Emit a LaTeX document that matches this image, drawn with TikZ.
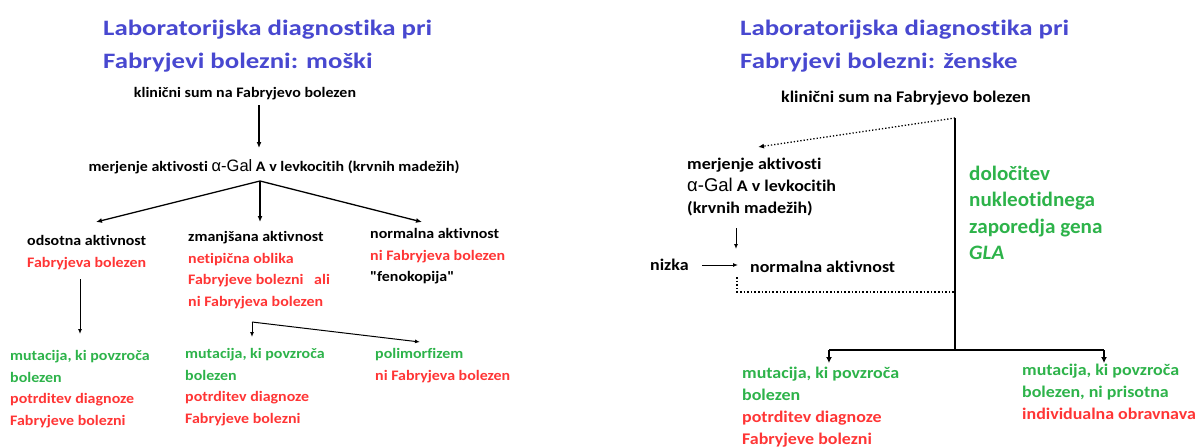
\documentclass[tikz,border=0pt]{standalone}
\usepackage{fontspec}
\setmainfont{Carlito}[Ligatures={NoCommon,TeXOff}, FakeStretch=1.1]
\newfontfamily\ttlfont{Carlito}[Ligatures={NoCommon,TeXOff}, FakeStretch=1.22]
\newfontfamily\bigfont{Carlito}[Ligatures={NoCommon,TeXOff}, FakeStretch=1.03]
\newfontfamily\galfont{Liberation Sans}
\usetikzlibrary{arrows.meta}
\definecolor{ttlblue}{HTML}{4848D0}
\definecolor{txtred}{HTML}{FF3535}
\definecolor{txtgreen}{HTML}{2DB34A}
\newcommand{\agal}{{\galfont\mdseries\fontsize{16.5}{16}\selectfont α-Gal}}
\newcommand{\agalR}{{\galfont\mdseries\fontsize{18.5}{16}\selectfont α-Gal}}
\tikzset{
  ttl/.style={inner sep=0pt, anchor=north west, align=left, text=ttlblue,
    font=\ttlfont\fontsize{22}{33}\selectfont\bfseries},
  txt/.style={inner sep=0pt, align=left, font=\fontsize{14.5}{21.7}\selectfont\bfseries},
  txtR/.style={inner sep=0pt, align=left, font=\fontsize{16.3}{22}\selectfont\bfseries},
  big/.style={inner sep=0pt, align=left, anchor=north west, text=txtgreen,
    font=\bigfont\fontsize{20.5}{26.3}\selectfont\bfseries},
  arr/.style={line width=1.3pt, -{Latex[length=6pt,width=5pt]}},
  thinarr/.style={line width=1pt, -{Latex[length=5pt,width=4pt]}},
  dotarr/.style={line width=1.3pt, dotted, -{Latex[length=6pt,width=5pt]}},
  dotline/.style={line width=1.6pt, dotted},
  thick/.style={line width=2.4pt},
  thickarr/.style={line width=2pt, -{Latex[length=6pt,width=6pt]}},
}
\begin{document}
\begin{tikzpicture}[x=1pt,y=-1pt]
\useasboundingbox[fill=white] (0,0) rectangle (1199,447);
% ---------------- left: men ----------------
\node[ttl] (t1) at (103,20) {Laboratorijska diagnostika pri\\Fabryjevi bolezni: moški};
\node[txt] (k1) at (245,94) {klinični sum na Fabryjevo bolezen};
\node[txt] (m1) at (274,167) {merjenje aktivosti \agal{} A v levkocitih (krvnih madežih)};
\node[txt, anchor=north west] (od) at (27,235) {odsotna aktivnost\\\color{txtred}Fabryjeva bolezen};
\node[txt, anchor=north west] (zm) at (188,231) {zmanjšana aktivnost\\\color{txtred}netipična oblika\\\color{txtred}Fabryjeve bolezni\hspace{7pt} ali\\\color{txtred}ni Fabryjeva bolezen};
\node[txt, anchor=north west] (no) at (370,228) {normalna aktivnost\\\color{txtred}ni Fabryjeva bolezen\\"fenokopija"};
\node[txt, anchor=north west] (mu1) at (10,350) {\color{txtgreen}mutacija, ki povzroča\\\color{txtgreen}bolezen\\\color{txtred}potrditev diagnoze\\\color{txtred}Fabryjeve bolezni};
\node[txt, anchor=north west] (mu2) at (185,348) {\color{txtgreen}mutacija, ki povzroča\\\color{txtgreen}bolezen\\\color{txtred}potrditev diagnoze\\\color{txtred}Fabryjeve bolezni};
\node[txt, anchor=north west] (po) at (375,348) {\color{txtgreen}polimorfizem\\\color{txtred}ni Fabryjeva bolezen};
% connectors left
\coordinate (k1a) at (259,105);
\coordinate (m1a) at (259,148);
\coordinate (sp) at (260,181);
\coordinate (odA) at (96,222);
\coordinate (zmA) at (260,222);
\coordinate (noA) at (422,222);
\coordinate (odB) at (80,279);
\coordinate (mu1A) at (80,334);
\coordinate (zmB) at (252,322);
\coordinate (mu2A) at (252,337);
\coordinate (poA) at (420,342);
\draw[arr] (k1a) -- (m1a);
\draw[arr] (sp) -- (odA);
\draw[arr] (sp) -- (zmA);
\draw[arr] (sp) -- (noA);
\draw[thinarr] (odB) -- (mu1A);
\draw[thinarr] (zmB) -- (mu2A);
\draw[thinarr] (zmB) -- (poA);
% ---------------- right: women ----------------
\node[ttl] (t2) at (740,20) {Laboratorijska diagnostika pri\\Fabryjevi bolezni: ženske};
\node[txtR] (k2) at (906,98) {klinični sum na Fabryjevo bolezen};
\node[txtR, anchor=north west] (m2) at (687,158) {merjenje aktivosti\\\agalR{} A v levkocitih\\(krvnih madežih)};
\node[txtR, anchor=west] (nz) at (650,265) {nizka};
\node[txtR, anchor=west] (n2) at (750,267) {normalna aktivnost};
\node[big] (gl) at (969,166) {določitev\\nukleotidnega\\zaporedja gena\\\itshape GLA};
\node[txtR, anchor=north west] (mu3) at (742,367) {\color{txtgreen}mutacija, ki povzroča\\\color{txtgreen}bolezen\\\color{txtred}potrditev diagnoze\\\color{txtred}Fabryjeve bolezni};
\node[txtR, anchor=north west] (mu4) at (1022,364) {\color{txtgreen}mutacija, ki povzroča\\\color{txtgreen}bolezen, ni prisotna\\\color{txtred}individualna obravnava};
% connectors right
\coordinate (vt) at (955,118);
\coordinate (vb) at (955,350);
\coordinate (hl) at (829,350);
\coordinate (hr) at (1104,350);
\coordinate (hlA) at (829,363);
\coordinate (hrA) at (1104,363);
\coordinate (dA) at (758,147);
\coordinate (m2a) at (736,228);
\coordinate (m2b) at (736,249);
\coordinate (nzA) at (702,265);
\coordinate (nzB) at (738,265);
\coordinate (dl1) at (737,277);
\coordinate (dl2) at (737,292);
\coordinate (dl3) at (955,292);
\draw[dotarr] (vt) -- (dA);
\draw[thick] (vt) -- (vb);
\draw[thick] (hl) -- (hr);
\draw[thickarr] (hl) -- (hlA);
\draw[thickarr] (hr) -- (hrA);
\draw[thinarr] (m2a) -- (m2b);
\draw[thinarr] (nzA) -- (nzB);
\draw[dotline] (dl1) -- (dl2) -- (dl3);
\end{tikzpicture}
\end{document}
